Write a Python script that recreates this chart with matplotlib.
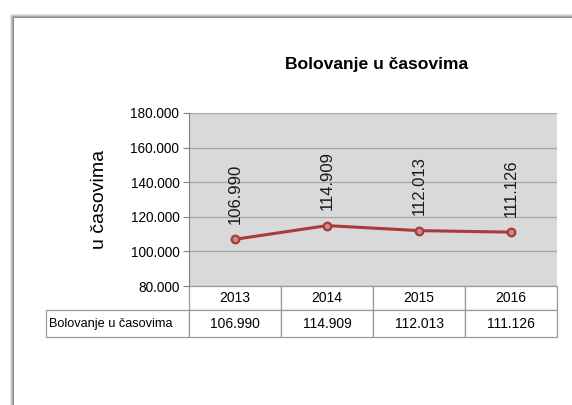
import matplotlib
matplotlib.use('Agg')
import matplotlib.pyplot as plt
from matplotlib.table import Table
from matplotlib.patches import Rectangle

# ---- data ----
years = ['2013', '2014', '2015', '2016']
hours = [106990, 114909, 112013, 111126]
series_name = 'Bolovanje u časovima'
y_ticks = [80000, 100000, 120000, 140000, 160000, 180000]
# --------------

def fmt(v):
    # thousands separator as a dot
    return f'{v:,}'.replace(',', '.')

plt.rcParams['font.family'] = ['Liberation Sans', 'DejaVu Sans']

W, H = 572, 405
fig = plt.figure(figsize=(W / 100, H / 100), dpi=100)

# card with a soft shadow on top/left
for i, c in enumerate(['#e6e6e6', '#c8c8c8', '#a8a8a8', '#8c8c8c']):
    fig.patches.append(Rectangle(((10 + i) / W, 0), 1, (H - 14 - i) / H,
                                 transform=fig.transFigure, facecolor=c,
                                 edgecolor='none', zorder=-2))
fig.patches.append(Rectangle((14 / W, 0), 1, (H - 18) / H,
                             transform=fig.transFigure, facecolor='white',
                             edgecolor='none', zorder=-1))

ax = fig.add_axes([189 / W, 1 - 286 / H, (557 - 189) / W, (286 - 113) / H])
ax.set_facecolor('#d9d9d9')

x = range(len(years))
ax.plot(x, hours, color='#a83b3b', lw=2.2, marker='o', ms=5.5,
        mfc='#c98a8a', mec='#a83b3b', mew=1.6, zorder=3)
for xi, v in zip(x, hours):
    ax.annotate(fmt(v), (xi, v), xytext=(0, 11), textcoords='offset points',
                rotation=90, ha='center', va='bottom', fontsize=12,
                color='#1a1a1a')

ax.set_xlim(-0.5, len(years) - 0.5)
ax.set_ylim(y_ticks[0], y_ticks[-1])
ax.set_yticks(y_ticks)
ax.set_yticklabels([fmt(t) for t in y_ticks], fontsize=9.8)
ax.set_xticks([])
ax.grid(axis='y', color='#a6a6a6', lw=0.9)
ax.set_axisbelow(True)
for s in ['top', 'right', 'bottom']:
    ax.spines[s].set_visible(False)
ax.spines['left'].set_color('#808080')
ax.tick_params(axis='y', length=4, color='#808080', pad=3)

ax.set_ylabel('u časovima', fontsize=14, labelpad=16)
fig.text(377 / W, 1 - 65 / H, series_name, ha='center', va='center',
         fontsize=12.6, fontweight='bold')

# data table under the plot
lab_w = (189 - 46) / (557 - 189)
col_w = 1 / len(years)
rh = [24 / 173, 27 / 173]
tab = Table(ax, bbox=[-lab_w, -(rh[0] + rh[1]), 1 + lab_w, rh[0] + rh[1]])
corner = tab.add_cell(0, 0, width=lab_w, height=rh[0], text='')
corner.visible_edges = ''
lab = tab.add_cell(1, 0, width=lab_w, height=rh[1], text=series_name, loc='left')
for j, (yr, v) in enumerate(zip(years, hours)):
    tab.add_cell(0, j + 1, width=col_w, height=rh[0], text=yr, loc='center')
    tab.add_cell(1, j + 1, width=col_w, height=rh[1], text=fmt(v), loc='center')
tab.auto_set_font_size(False)
tab.set_fontsize(10)
lab.get_text().set_fontsize(9.2)
for cell in tab.get_celld().values():
    cell.set_edgecolor('#9a9a9a')
    cell.set_linewidth(0.9)
    cell.PAD = 0.02
ax.add_table(tab)

fig.savefig('out.png', dpi=100)
